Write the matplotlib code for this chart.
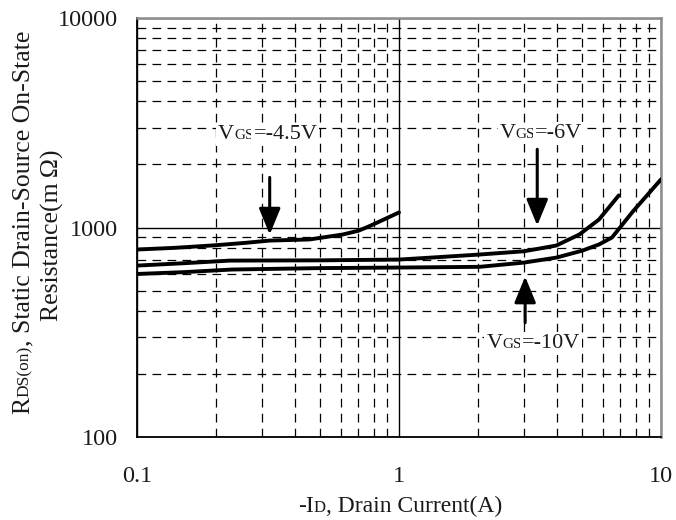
import matplotlib
matplotlib.use("Agg")
import matplotlib.pyplot as plt
from matplotlib.ticker import FixedLocator, LogLocator, NullFormatter

plt.rcParams['font.family'] = ['Liberation Serif', 'DejaVu Serif']
TXT = '#1a1a1a'

# ---- data ----
id_45 = [0.1, 0.14, 0.2, 0.26, 0.32, 0.456, 0.61, 0.7, 0.77, 0.88, 1.0]
r_45 = [785, 800, 823, 845, 866, 877, 926, 965, 1014, 1095, 1180]

id_6 = [0.1, 0.15, 0.226, 0.5, 1.0, 1.34, 2.03, 3.0, 3.98, 4.88, 5.8, 6.9]
r_6 = [658, 675, 695, 697, 703, 719, 743, 770, 820, 926, 1092, 1423]

id_10 = [0.1, 0.15, 0.23, 0.5, 1.0, 2.03, 3.0, 3.98, 5.0, 5.8, 6.5, 7.8, 10.0]
r_10 = [600, 612, 630, 640, 644, 649, 680, 718, 775, 830, 896, 1190, 1697]

x_ticks = [0.1, 1, 10]
x_tick_labels = ['0.1', '1', '10']
y_ticks = [100, 1000, 10000]
y_tick_labels = ['100', '1000', '10000']

# labels: (text, x_left, y_baseline) ; arrows: (x, tail, tip)
vgs_labels = [('-4.5V', 0.2035, 2636), ('-6V', 2.42, 2660), ('-10V', 2.154, 267)]
arrows = [(0.321, 1734, 926), (3.37, 2362, 1022), (3.03, 351, 583)]

fig = plt.figure(figsize=(6.76, 5.2), dpi=100)
L, R, T, B = 137, 661, 18, 437
ax = fig.add_axes([L / 676, 1 - B / 520, (R - L) / 676, (B - T) / 520])
ax.set_xscale('log')
ax.set_yscale('log')
ax.set_xlim(0.1, 10)
ax.set_ylim(100, 10000)

ax.xaxis.set_major_locator(FixedLocator(x_ticks))
ax.set_xticklabels(x_tick_labels)
ax.yaxis.set_major_locator(FixedLocator(y_ticks))
ax.set_yticklabels(y_tick_labels)
ax.xaxis.set_minor_locator(LogLocator(base=10, subs=range(2, 10)))
ax.yaxis.set_minor_locator(LogLocator(base=10, subs=range(2, 10)))
ax.xaxis.set_minor_formatter(NullFormatter())
ax.yaxis.set_minor_formatter(NullFormatter())

ax.grid(which='minor', color='black', lw=0.9, ls=(0, (7, 5)))
ax.grid(which='major', color='black', lw=1.0, ls='-')
ax.set_axisbelow(True)
ax.tick_params(which='both', length=0)
ax.tick_params(axis='x', pad=21, labelsize=17.5, labelcolor=TXT)
ax.tick_params(axis='y', pad=14, labelsize=17.5, labelcolor=TXT)

for s in ['left', 'bottom']:
    ax.spines[s].set_color('black')
    ax.spines[s].set_linewidth(1.3)
for s in ['top', 'right']:
    ax.spines[s].set_color('#8c8c8c')
    ax.spines[s].set_linewidth(1.8)

for xs, ys in [(id_45, r_45), (id_6, r_6), (id_10, r_10)]:
    ax.plot(xs, ys, color='black', lw=2.8, solid_capstyle='round',
            solid_joinstyle='round', zorder=3)

BIG, SMALL = 16, 11
BOX = dict(fc='white', ec='none', pad=1.5)


def chain_h(x, y, parts):
    prev = ax.text(x, y, parts[0][0], fontsize=parts[0][1], ha='left',
                   va='baseline', color=TXT, bbox=BOX, zorder=5)
    for s, size in parts[1:]:
        prev = ax.annotate(s, xy=(1, y), xycoords=(prev, ax.transData),
                           fontsize=size, ha='left', va='baseline', color=TXT,
                           annotation_clip=False, bbox=BOX, zorder=5)
    return prev


for txt, x, y in vgs_labels:
    chain_h(x, y, [('V', BIG), ('GS', SMALL), ('=' + txt, BIG)])

for x, tail, tip in arrows:
    ax.annotate('', xy=(x, tip), xytext=(x, tail),
                arrowprops=dict(arrowstyle='-|>,head_length=0.8,head_width=0.33',
                                mutation_scale=20, lw=2.2, color='black',
                                shrinkA=0, shrinkB=0), zorder=4)

# x label
xl_x, xl_y = 298 / 676, 1 - 512 / 520
p = fig.text(xl_x, xl_y, '-I', fontsize=17, ha='left', va='baseline', color=TXT)
for s, size in [('D', 12), (', Drain Current(A)', 17)]:
    p = ax.annotate(s, xy=(1, xl_y), xycoords=(p, fig.transFigure),
                    fontsize=size, ha='left', va='baseline', color=TXT,
                    annotation_clip=False)

# y label (two lines, rotated)
yl_x, yl_y = 29 / 676, 1 - 414 / 520
p = fig.text(yl_x, yl_y, 'R', fontsize=18.5, rotation=90, rotation_mode='anchor',
             ha='left', va='baseline', color=TXT)
for s, size in [('DS(on)', 12.5), (', Static Drain-Source On-State', 18.5)]:
    p = ax.annotate(s, xy=(yl_x, 1), xycoords=(fig.transFigure, p),
                    fontsize=size, rotation=90, rotation_mode='anchor',
                    ha='left', va='baseline', color=TXT, annotation_clip=False)
fig.text(59 / 676, 1 - 235 / 520, 'Resistance(m\u2009Ω)', fontsize=18.5, rotation=90,
         rotation_mode='anchor', ha='center', va='baseline', color=TXT)

fig.savefig('out.png', dpi=100, facecolor='white')
